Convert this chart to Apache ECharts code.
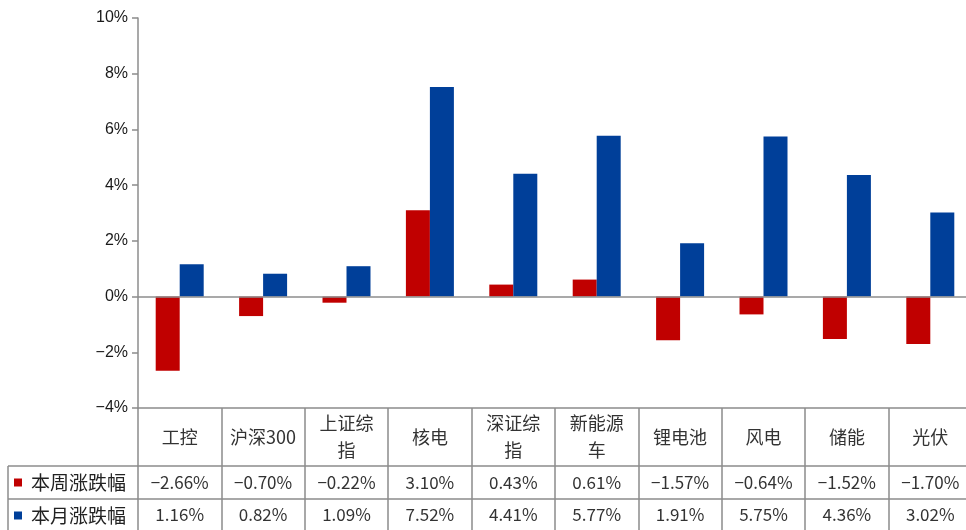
<!DOCTYPE html>
<html>
<head>
<meta charset="utf-8">
<script src="https://cdn.jsdelivr.net/npm/echarts@6/dist/echarts.min.js"></script>
<style>
  html, body { margin: 0; padding: 0; background: #fff; }
  #chart { width: 966px; height: 530px; }
</style>
</head>
<body>
<div id="chart"></div>
<script>
// Sector and index names (header row of the table)
var categories = ['工控', '沪深300', '上证综\n指', '核电', '深证综\n指', '新能源\n车', '锂电池', '风电', '储能', '光伏'];
// Weekly change, %
var weekChange = [-2.66, -0.70, -0.22, 3.10, 0.43, 0.61, -1.57, -0.64, -1.52, -1.70];
// Monthly change, %
var monthChange = [1.16, 0.82, 1.09, 7.52, 4.41, 5.77, 1.91, 5.75, 4.36, 3.02];
var seriesNames = ['本周涨跌幅', '本月涨跌幅'];
var yTicks = { min: -4, max: 10, interval: 2 };

var RED = '#C00000';
var BLUE = '#003F99';
var GRID_LINE = '#8C8C8C';
var CJK = '"Noto Sans CJK SC", "Noto Sans", sans-serif';

function pct(v) {
  return (v < 0 ? '\u2212' : '') + Math.abs(v).toFixed(2) + '%';
}

var chart = echarts.init(document.getElementById('chart'), null, { renderer: 'canvas' });

var GRID_LEFT = 138, GRID_TOP = 18, GRID_BOTTOM = 122, GRID_WIDTH = 834;
var HEADER_H = 58, ROW1_H = 33, ROW2_H = 31;

function tableAxis(data, offset, tickLen, margin, fontSize) {
  return {
    type: 'category',
    position: 'bottom',
    offset: offset,
    data: data,
    axisLine: { show: true, onZero: false, lineStyle: { color: GRID_LINE, width: 1.5 } },
    axisTick: { show: true, interval: 0, length: tickLen, lineStyle: { color: GRID_LINE, width: 1.5 } },
    axisLabel: {
      interval: 0,
      margin: margin,
      verticalAlign: 'middle',
      fontFamily: CJK,
      fontSize: fontSize,
      lineHeight: 27,
      color: '#333'
    },
    splitLine: { show: false }
  };
}

var option = {
  animation: false,
  backgroundColor: '#fff',
  grid: {
    left: GRID_LEFT, width: GRID_WIDTH, top: GRID_TOP, bottom: GRID_BOTTOM,
    containLabel: false, outerBoundsMode: 'none'
  },
  legend: {
    orient: 'vertical',
    left: 14,
    top: 472,
    padding: 0,
    itemWidth: 8,
    itemHeight: 8,
    itemGap: 12,
    icon: 'rect',
    selectedMode: false,
    data: seriesNames,
    textStyle: { fontFamily: CJK, fontSize: 19, lineHeight: 21, color: '#222', padding: [0, 0, 0, 4] }
  },
  xAxis: [
    tableAxis(categories, 0, HEADER_H, HEADER_H / 2, 18),
    tableAxis(weekChange.map(pct), HEADER_H, ROW1_H, ROW1_H / 2, 17),
    tableAxis(monthChange.map(pct), HEADER_H + ROW1_H, ROW2_H + 2, ROW2_H / 2, 17)
  ],
  yAxis: {
    type: 'value',
    min: yTicks.min,
    max: yTicks.max,
    interval: yTicks.interval,
    axisLine: { show: true, lineStyle: { color: GRID_LINE, width: 1.5 } },
    axisTick: { show: true, length: 6, lineStyle: { color: GRID_LINE, width: 1.5 } },
    splitLine: { show: false },
    axisLabel: {
      margin: 10,
      fontFamily: '"Liberation Sans", Arial, sans-serif',
      fontSize: 16,
      color: '#1a1a1a',
      formatter: function (v) { return (v < 0 ? '\u2212' : '') + Math.abs(v) + '%'; }
    }
  },
  series: [
    {
      name: seriesNames[0],
      type: 'bar',
      xAxisIndex: 0,
      data: weekChange,
      barWidth: 24,
      barGap: '0%',
      itemStyle: { color: RED },
      markLine: {
        silent: true,
        symbol: 'none',
        label: { show: false },
        lineStyle: { color: GRID_LINE, width: 1.5, type: 'solid' },
        data: [{ yAxis: 0 }]
      }
    },
    {
      name: seriesNames[1],
      type: 'bar',
      xAxisIndex: 0,
      data: monthChange,
      barWidth: 24,
      barGap: '0%',
      itemStyle: { color: BLUE }
    }
  ]
};

chart.setOption(option);

// Left column of the table: extend the row rules and close the frame
var y0 = 530 - GRID_BOTTOM;
var yRow1 = y0 + HEADER_H;
var yRow2 = yRow1 + ROW1_H;
var lineStyle = { stroke: GRID_LINE, lineWidth: 1.5 };
chart.setOption({
  graphic: [
    { type: 'line', shape: { x1: 8, y1: yRow1, x2: GRID_LEFT, y2: yRow1 }, style: lineStyle, silent: true },
    { type: 'line', shape: { x1: 8, y1: yRow2, x2: GRID_LEFT, y2: yRow2 }, style: lineStyle, silent: true },
    { type: 'line', shape: { x1: 8, y1: yRow1, x2: 8, y2: 531 }, style: lineStyle, silent: true }
  ]
});
</script>
</body>
</html>
